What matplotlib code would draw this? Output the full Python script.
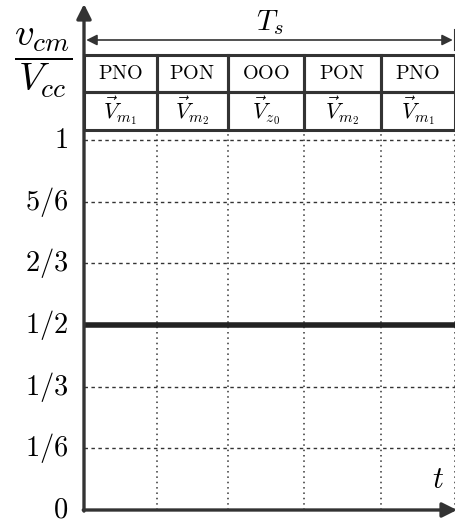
import matplotlib
matplotlib.use("Agg")
import matplotlib.pyplot as plt
from matplotlib.patches import Rectangle

plt.rcParams['mathtext.fontset'] = 'cm'

# data
levels = [0, 1/6, 1/3, 1/2, 2/3, 5/6, 1]
level_labels = ['0', '1/6', '1/3', '1/2', '2/3', '5/6', '1']
states = ['PNO', 'PON', 'OOO', 'PON', 'PNO']
vectors = [r'$\vec{V}_{m_1}$', r'$\vec{V}_{m_2}$', r'$\vec{V}_{z_0}$',
           r'$\vec{V}_{m_2}$', r'$\vec{V}_{m_1}$']
t_edges = [0, 0.98, 1.94, 2.96, 4.0, 5.0]   # switching instants (T_s = 5)
vcm_level = 0.5

W, H = 456, 527
fig = plt.figure(figsize=(W / 100, H / 100), dpi=100)
x0, y0 = 84, 510          # origin in pixels (from top)
ppu = 370                 # pixels per unit of v_cm/V_cc
slot = 74.2               # pixels per time unit
ax = fig.add_axes([x0 / W, (H - y0) / H, (W - x0) / W, (y0 - 3) / H])
ax.set_xlim(0, (W - x0) / slot)
ax.set_ylim(0, (y0 - 3) / ppu)
ax.axis('off')

dark = '#333333'
n = len(states)
tend = t_edges[-1]
row1, row2, row3 = 1.027, 1.13, 1.23

# grid
for lv in levels[1:]:
    ax.plot([0, tend], [lv, lv], color=dark, lw=1.0, ls=(0, (2.5, 2.5)))
for te in t_edges[1:]:
    ax.plot([te, te], [0, row1], color=dark, lw=1.1, ls=(0, (1, 2.5)))

# common-mode voltage
ax.plot([0, tend + 0.02], [vcm_level, vcm_level], color='#222222', lw=4.0,
        solid_capstyle='butt')

# axes with arrows
ax.annotate('', xy=(0, (y0 - 4) / ppu), xytext=(0, -0.003),
            arrowprops=dict(arrowstyle='-|>', color=dark, lw=2.4,
                            mutation_scale=22, shrinkA=0, shrinkB=0),
            annotation_clip=False)
ax.annotate('', xy=((W - x0 + 1) / slot, 0), xytext=(-0.01, 0),
            arrowprops=dict(arrowstyle='-|>', color=dark, lw=2.4,
                            mutation_scale=22, shrinkA=0, shrinkB=0),
            annotation_clip=False)

# tick labels
for lv, lab in zip(levels, level_labels):
    ax.text(-16 / slot, lv, '$' + lab + '$', ha='right', va='center',
            fontsize=20.5, clip_on=False)

# table
for i in range(n):
    a, b = t_edges[i], t_edges[i + 1]
    for yb, yt, txt, fs in [(row1, row2, vectors[i], 16),
                            (row2, row3, r'$\mathrm{' + states[i] + '}$', 14.5)]:
        ax.add_patch(Rectangle((a, yb), b - a, yt - yb, fill=False,
                               edgecolor=dark, lw=2.2, clip_on=False))
        ax.text((a + b) / 2, (yb + yt) / 2, txt, ha='center', va='center',
                fontsize=fs, clip_on=False)

# T_s arrow
ya = (y0 - 40) / ppu
ax.annotate('', xy=(tend - 0.03, ya), xytext=(0.03, ya),
            arrowprops=dict(arrowstyle='<|-|>', color=dark, lw=1.2,
                            mutation_scale=16, shrinkA=0, shrinkB=0),
            annotation_clip=False)
ax.plot([tend, tend], [(y0 - 50) / ppu, (y0 - 30) / ppu], color=dark, lw=1.5,
        clip_on=False)
ax.text(tend / 2, (y0 - 23) / ppu, r'$T_s$', ha='center', va='center',
        fontsize=21, clip_on=False)

# axis labels
ax.text((438 - x0) / slot, 30 / ppu, r'$t$', ha='center', va='center',
        fontsize=22)
fig.text(43 / W, 1 - 63 / H, r'$\dfrac{v_{cm}}{V_{cc}}$', ha='center',
         va='center', fontsize=28)

fig.savefig('out.png', dpi=100)
